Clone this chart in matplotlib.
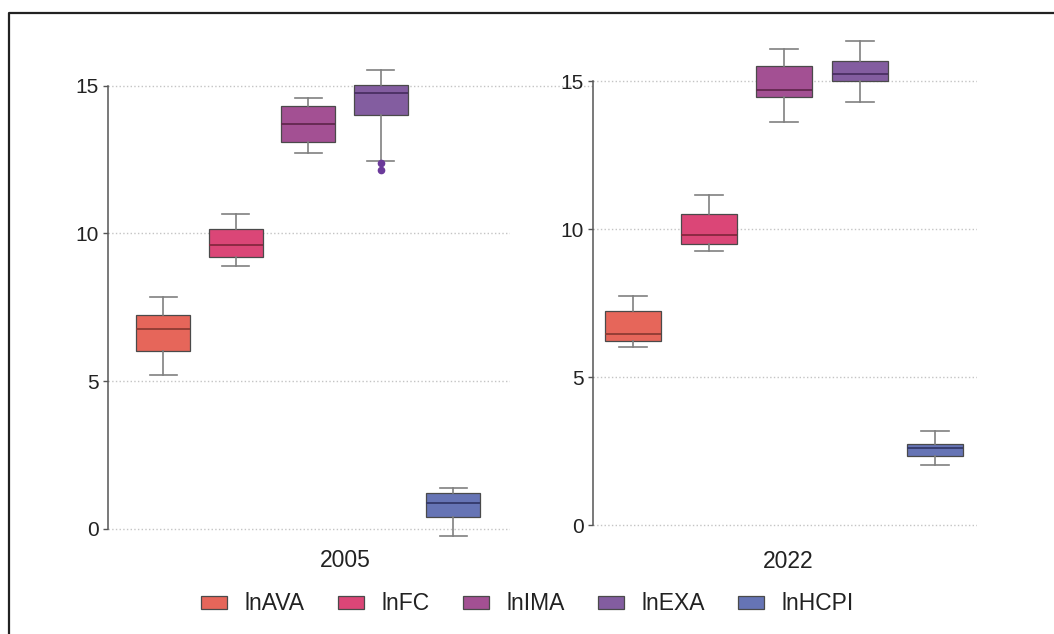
import matplotlib
matplotlib.use("Agg")
import matplotlib.pyplot as plt
from matplotlib.patches import Patch
from matplotlib.lines import Line2D

plt.rcParams['font.family'] = ['Liberation Sans', 'DejaVu Sans']

variables = ["lnAVA", "lnFC", "lnIMA", "lnEXA", "lnHCPI"]
years = ["2005", "2022"]
colors = ["#E6665A", "#DB4677", "#A35093", "#835DA0", "#6674B5"]
median_colors = ["#8E3B33", "#86283F", "#62284F", "#4A2F63", "#34396A"]
flier_color = "#6B3A9A"

# five-number summaries: whislo, q1, med, q3, whishi
stats_2005_whislo = [5.21, 8.89, 12.73, 12.44, -0.24]
stats_2005_q1 = [6.00, 9.21, 13.11, 14.00, 0.40]
stats_2005_med = [6.75, 9.61, 13.71, 14.76, 0.87]
stats_2005_q3 = [7.23, 10.16, 14.33, 15.04, 1.21]
stats_2005_whishi = [7.85, 10.64, 14.58, 15.54, 1.37]
fliers_2005 = [[], [], [], [12.37, 12.14], []]

stats_2022_whislo = [6.03, 9.27, 13.61, 14.30, 2.03]
stats_2022_q1 = [6.23, 9.50, 14.47, 14.99, 2.35]
stats_2022_med = [6.47, 9.79, 14.69, 15.25, 2.62]
stats_2022_q3 = [7.23, 10.51, 15.50, 15.69, 2.75]
stats_2022_whishi = [7.75, 11.15, 16.08, 16.36, 3.19]
fliers_2022 = [[], [], [], [], []]

yticks = [0, 5, 10, 15]

W, H = 1054, 634
fig = plt.figure(figsize=(W / 100, H / 100), dpi=100)

def px(l, r, b, t):
    return [l / W, 1 - b / H, (r - l) / W, (b - t) / H]

ax1 = fig.add_axes(px(108, 510, 552.3, 56.2))
ax2 = fig.add_axes(px(592.7, 977, 549.0, 30.65))

def draw(ax, lo, q1, med, q3, hi, fl, xlim, ylim, year, label_x, label_pad):
    stats = []
    for i in range(len(variables)):
        stats.append(dict(whislo=lo[i], q1=q1[i], med=med[i], q3=q3[i],
                          whishi=hi[i], fliers=fl[i], label=variables[i]))
    bp = ax.bxp(stats, positions=range(len(variables)), widths=0.745,
                patch_artist=True, showfliers=True,
                boxprops=dict(edgecolor="#4a4a4a", linewidth=0.9),
                whiskerprops=dict(color="#808080", linewidth=1.2),
                capprops=dict(color="#808080", linewidth=1.2),
                medianprops=dict(linewidth=1.3),
                flierprops=dict(marker="o", markersize=4.5,
                                markerfacecolor=flier_color,
                                markeredgecolor=flier_color))
    for patch, c in zip(bp["boxes"], colors):
        patch.set_facecolor(c)
    for m, c in zip(bp["medians"], median_colors):
        m.set_color(c)
    ax.set_xlim(*xlim)
    ax.set_ylim(*ylim)
    ax.set_yticks(yticks)
    ax.set_yticklabels([str(t) for t in yticks])
    ax.set_xticks([label_x])
    ax.set_xticklabels([year])
    ax.tick_params(axis="x", length=0, pad=label_pad, labelsize=16.5, labelcolor="#222222")
    ax.tick_params(axis="y", length=3.6, width=1, color="#555555", pad=3,
                   labelsize=15, labelcolor="#222222")
    for s in ["top", "right", "bottom"]:
        ax.spines[s].set_visible(False)
    ax.spines["left"].set_bounds(0, 15)
    ax.spines["left"].set_color("#555555")
    ax.spines["left"].set_linewidth(1.1)
    ax.yaxis.grid(True, linestyle=":", color="#c4c4c4", linewidth=1)
    ax.set_axisbelow(True)

draw(ax1, stats_2005_whislo, stats_2005_q1, stats_2005_med, stats_2005_q3,
     stats_2005_whishi, fliers_2005, (-0.759, 4.786), (-0.8, 16.0), years[0], 2.51, -2.5)
draw(ax2, stats_2022_whislo, stats_2022_q1, stats_2022_med, stats_2022_q3,
     stats_2022_whishi, fliers_2022, (-0.538, 4.552), (-0.8, 16.7), years[1], 2.05, 0.5)

# left panel's 15 gridline runs on into the right panel
ax1.add_line(Line2D([4.786, 9.75], [15, 15], linestyle=":", color="#c4c4c4",
                    linewidth=1, clip_on=False, zorder=0))

handles = [Patch(facecolor=c, edgecolor="#4a4a4a", linewidth=0.9) for c in colors]
fig.legend(handles, variables, loc="center", ncol=5, frameon=False,
           bbox_to_anchor=(527.5 / W, 1 - 604 / H), fontsize=16.5,
           handlelength=1.13, handleheight=0.48, handletextpad=0.78,
           columnspacing=1.44, labelcolor="#222222")

# figure frame (top and left edges visible)
fig.add_artist(Line2D([9 / W, 9 / W, 1.0], [0.0, 1 - 12.7 / H, 1 - 12.7 / H],
                      transform=fig.transFigure, color="#222222", linewidth=1.6))

fig.savefig("out.png", dpi=100)
